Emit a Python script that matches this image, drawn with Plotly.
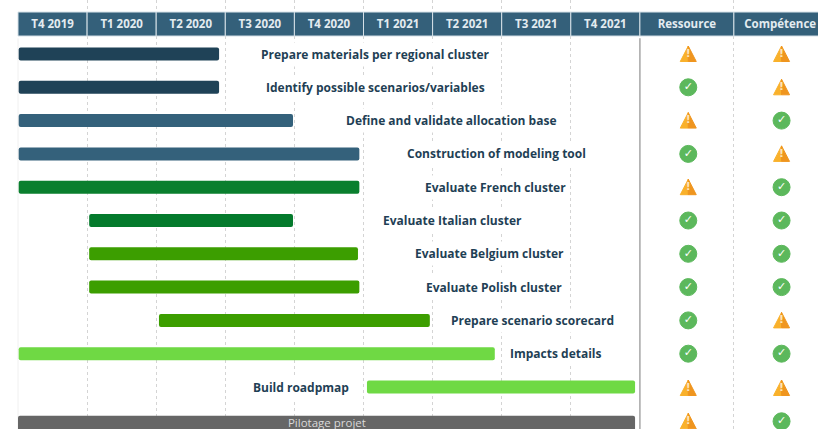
import plotly.graph_objects as go

# Data
periods = ["T4 2019", "T1 2020", "T2 2020", "T3 2020", "T4 2020", "T1 2021", "T2 2021", "T3 2021", "T4 2021"]
tasks = ["Prepare materials per regional cluster", "Identify possible scenarios/variables",
         "Define and validate allocation base", "Construction of modeling tool",
         "Evaluate French cluster", "Evaluate Italian cluster", "Evaluate Belgium cluster",
         "Evaluate Polish cluster", "Prepare scenario scorecard", "Impacts details",
         "Build roadpmap", "Pilotage projet"]
# start / end measured in quarters since the start of T4 2019
starts = [0.01, 0.01, 0.01, 0.01, 0.01, 1.03, 1.03, 1.03, 2.04, 0.01, 5.05, 0.0]
ends = [2.91, 2.91, 3.98, 4.94, 4.94, 3.98, 4.92, 4.94, 5.96, 6.90, 8.93, 8.93]
ressource = ["warn", "ok", "warn", "ok", "warn", "ok", "ok", "ok", "ok", "ok", "warn", "warn"]
competence = ["warn", "warn", "ok", "warn", "ok", "ok", "ok", "ok", "warn", "ok", "warn", "ok"]

# Styles and layout
bar_colors = ["#1f4257", "#1f4257", "#34617b", "#34617b", "#0a7f2e", "#047a2c",
              "#3c9e00", "#3c9e00", "#3c9e00", "#6fd944", "#6fd944", "#666666"]
label_centers = [5.18, 5.18, 6.28, 6.92, 6.91, 6.29, 6.82, 6.89, 7.45, 7.79, 4.10]
px_per_q = 69.1
q_left = 18
row_pitch = 33.3
row0 = 54
W, H = 818, 429
col_edges = [0, 1, 2, 3, 4, 5, 6, 7, 8, 9, 10.36, 11.6]
header_labels = periods + ["Ressource", "Compétence"]
icon_x = {"Ressource": 9.70, "Compétence": 11.05}
header_y = -0.9

fig = go.Figure()

# Header cells
fig.add_trace(go.Bar(
    orientation="h", y=[header_y] * len(header_labels),
    x=[col_edges[i + 1] - col_edges[i] for i in range(len(header_labels))],
    base=col_edges[:-1], width=0.72,
    marker=dict(color="#34607a", line=dict(color="#d5e0e7", width=1)),
    hoverinfo="skip", showlegend=False))
fig.add_trace(go.Scatter(
    x=[i + 0.5 for i in range(len(periods))] + [9.68, 11.03],
    y=[header_y + 0.02] * len(header_labels), text=header_labels, mode="text",
    textfont=dict(family="Open Sans", size=11.5, color="#e3ebf0", weight="bold"),
    hoverinfo="skip", showlegend=False))

# Task bars
rows = list(range(len(tasks) - 1)) + [11.1]
fig.add_trace(go.Bar(
    orientation="h", y=rows, x=[e - s for s, e in zip(starts, ends)], base=starts,
    width=[0.39] * 11 + [0.48],
    marker=dict(color=bar_colors, line=dict(width=0), cornerradius=2),
    hoverinfo="skip", showlegend=False))

# Pilotage label inside the last bar
fig.add_trace(go.Scatter(
    x=[4.47], y=[11.1], text=[tasks[-1]], mode="text",
    textfont=dict(family="Open Sans", size=11.5, color="#d9d9d9"),
    hoverinfo="skip", showlegend=False))

shapes = []
icon_row = lambda i: i + 0.03 if i >= 10 else i

# Status icons
for name, col in (("Ressource", ressource), ("Compétence", competence)):
    ok_rows = [icon_row(i) for i, v in enumerate(col) if v == "ok"]
    warn_rows = [icon_row(i) for i, v in enumerate(col) if v == "warn"]
    fig.add_trace(go.Scatter(
        x=[icon_x[name]] * len(ok_rows), y=ok_rows, mode="markers+text",
        text=["✓"] * len(ok_rows), textposition="middle center",
        textfont=dict(family="DejaVu Sans", size=11, color="#ffffff", weight="bold"),
        marker=dict(symbol="circle", size=17, color="#5cb85c", line=dict(color="#5cb85c", width=1)),
        hoverinfo="skip", showlegend=False))
    fig.add_trace(go.Scatter(
        x=[icon_x[name]] * len(warn_rows), y=warn_rows, mode="text",
        text=["!"] * len(warn_rows), textposition="middle center",
        textfont=dict(family="DejaVu Sans", size=11, color="#fbe3bb", weight="bold"),
        hoverinfo="skip", showlegend=False))
    for r in warn_rows:
        common = dict(type="path", xref="x", yref="y", xsizemode="pixel", ysizemode="pixel",
                      xanchor=icon_x[name], yanchor=r, layer="below")
        shapes.append(dict(path="M 0 8 L -8 -7.5 L 0 -7.5 Z", fillcolor="#f9b12b",
                           line=dict(color="#f9b12b", width=1), **common))
        shapes.append(dict(path="M 0 8 L 8 -7.5 L 0 -7.5 Z", fillcolor="#ef951f",
                           line=dict(color="#ef951f", width=1), **common))

# Task labels
annotations = [
    dict(x=label_centers[i], y=i, text=tasks[i], showarrow=False, xref="x", yref="y",
         font=dict(family="Open Sans", size=12, color="#1f3f55", weight="bold"),
         bgcolor="#ffffff", borderpad=3)
    for i in range(len(label_centers))
]

x0 = -q_left / px_per_q
x1 = (W - q_left) / px_per_q
y_top = -row0 / row_pitch
y_bot = (H - row0) / row_pitch

shapes += [
    dict(type="line", x0=9, x1=9, y0=-0.47, y1=y_bot, xref="x", yref="y",
         line=dict(color="#a6a6a6", width=1.5), layer="above"),
    dict(type="line", x0=0, x1=0, y0=-0.47, y1=y_bot, xref="x", yref="y",
         line=dict(color="#f0f0f0", width=1), layer="below"),
]

fig.update_layout(
    width=W, height=H, margin=dict(l=0, r=0, t=0, b=0),
    paper_bgcolor="#ffffff", plot_bgcolor="#ffffff", barmode="overlay",
    xaxis=dict(range=[x0, x1], tickvals=[1, 2, 3, 4, 5, 6, 7, 8, 10.36], showticklabels=False,
               showgrid=True, gridcolor="#d4d4d4", griddash="dot", gridwidth=1,
               zeroline=False, showline=False, ticks=""),
    yaxis=dict(range=[y_bot, y_top], showgrid=False, zeroline=False, showticklabels=False,
               showline=False, ticks=""),
    annotations=annotations, shapes=shapes, showlegend=False,
)
fig.write_html("out.html", config=dict(displayModeBar=False),
               post_script="document.body.style.margin='0';")
